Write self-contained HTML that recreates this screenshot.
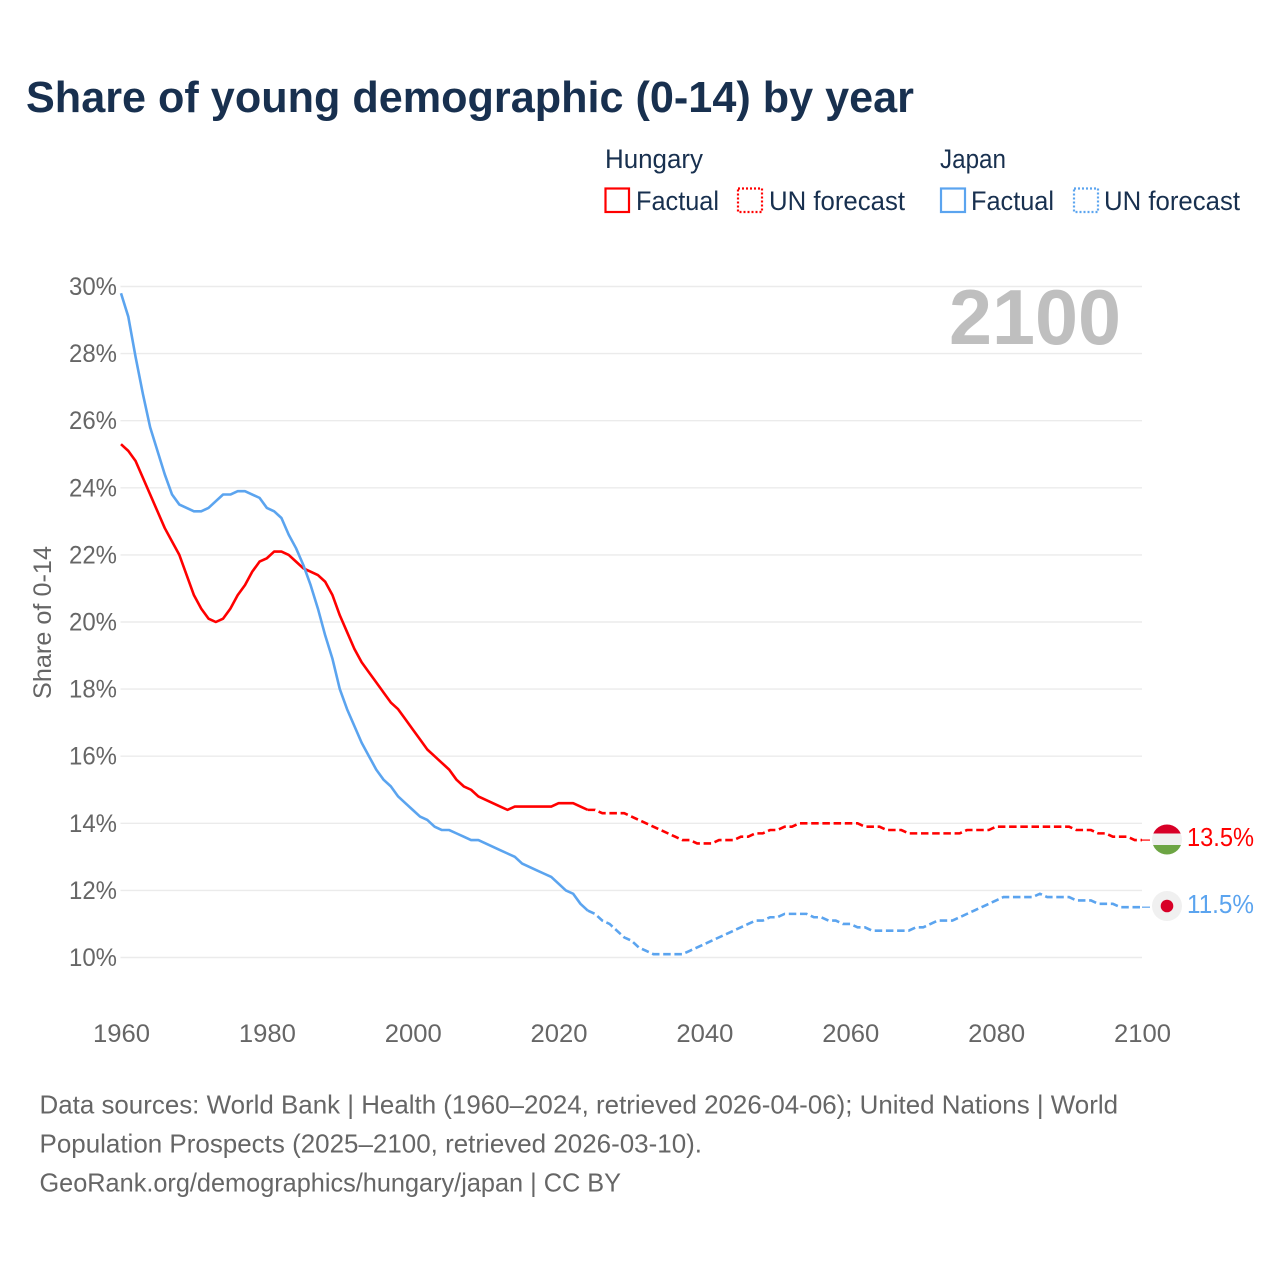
<!DOCTYPE html>
<html lang="en">
<head>
<meta charset="utf-8">
<title>Share of young demographic (0-14) by year</title>
<style>
  html, body { margin: 0; padding: 0; background: #fff; }
  svg { display: block; font-family: "Liberation Sans", sans-serif; }
</style>
</head>
<body>
<svg id="chart" xmlns="http://www.w3.org/2000/svg" width="1280" height="1280" viewBox="0 0 1280 1280">
  <defs>
    <clipPath id="flag-clip-hu"><circle cx="1167" cy="839.5" r="15"/></clipPath>
  </defs>
  <rect width="1280" height="1280" fill="#ffffff"/>

  <text x="26" y="112" font-size="44" font-weight="700" fill="#18304f" textLength="888" lengthAdjust="spacingAndGlyphs">Share of young demographic (0-14) by year</text>

  <g font-size="26.5" fill="#18304f">
    <text x="605" y="168" textLength="98" lengthAdjust="spacingAndGlyphs">Hungary</text>
    <rect x="605.5" y="188.5" width="23.5" height="23.5" fill="none" stroke="#ff0000" stroke-width="2.2"/>
    <text x="636" y="210" textLength="83" lengthAdjust="spacingAndGlyphs">Factual</text>
    <rect x="738" y="188.5" width="24" height="23.5" fill="none" stroke="#ff0000" stroke-width="2.2" stroke-dasharray="2 2"/>
    <text x="769" y="210" textLength="136" lengthAdjust="spacingAndGlyphs">UN forecast</text>
    <text x="940" y="168" textLength="66" lengthAdjust="spacingAndGlyphs">Japan</text>
    <rect x="941" y="188.5" width="24" height="23.5" fill="none" stroke="#5ba4ef" stroke-width="2.2"/>
    <text x="971" y="210" textLength="83" lengthAdjust="spacingAndGlyphs">Factual</text>
    <rect x="1074" y="188.5" width="24" height="23.5" fill="none" stroke="#5ba4ef" stroke-width="2.2" stroke-dasharray="2 2"/>
    <text x="1104" y="210" textLength="136" lengthAdjust="spacingAndGlyphs">UN forecast</text>
  </g>

  <g id="grid"></g>
  <g id="y-ticks" font-size="25" fill="#666666"></g>
  <g id="x-ticks" font-size="25" fill="#666666"></g>

  <text transform="translate(51 699) rotate(-90)" font-size="25" fill="#666666" textLength="153" lengthAdjust="spacingAndGlyphs">Share of 0-14</text>

  <text x="949" y="344" font-size="78" font-weight="700" fill="#bfbfbf" textLength="172" lengthAdjust="spacingAndGlyphs">2100</text>

  <g id="series"></g>

  <g clip-path="url(#flag-clip-hu)">
    <rect x="1151" y="824" width="32" height="9.5" fill="#d80027"/>
    <rect x="1151" y="833.5" width="32" height="11.5" fill="#f0f0f0"/>
    <rect x="1151" y="845" width="32" height="10" fill="#6da544"/>
  </g>
  <g>
    <circle cx="1167" cy="906" r="15" fill="#f0f0f0"/>
    <circle cx="1167" cy="906" r="6.3" fill="#d80027"/>
  </g>
  <text id="end-hu" x="1187" y="846" font-size="25.5" fill="#ff0000" textLength="67" lengthAdjust="spacingAndGlyphs"></text>
  <text id="end-jp" x="1187" y="913" font-size="25.5" fill="#5ba4ef" textLength="67" lengthAdjust="spacingAndGlyphs"></text>

  <g font-size="26" fill="#666666">
    <text x="39.5" y="1113.5" textLength="1078.5" lengthAdjust="spacingAndGlyphs">Data sources: World Bank | Health (1960–2024, retrieved 2026-04-06); United Nations | World</text>
    <text x="39.5" y="1152.5" textLength="662.5" lengthAdjust="spacingAndGlyphs">Population Prospects (2025–2100, retrieved 2026-03-10).</text>
    <text x="39.5" y="1191.5" textLength="581.5" lengthAdjust="spacingAndGlyphs">GeoRank.org/demographics/hungary/japan | CC BY</text>
  </g>
</svg>
<script>
const years = [1960,1961,1962,1963,1964,1965,1966,1967,1968,1969,1970,1971,1972,1973,1974,1975,1976,1977,1978,1979,
1980,1981,1982,1983,1984,1985,1986,1987,1988,1989,1990,1991,1992,1993,1994,1995,1996,1997,1998,1999,
2000,2001,2002,2003,2004,2005,2006,2007,2008,2009,2010,2011,2012,2013,2014,2015,2016,2017,2018,2019,
2020,2021,2022,2023,2024,2025,2026,2027,2028,2029,2030,2031,2032,2033,2034,2035,2036,2037,2038,2039,
2040,2041,2042,2043,2044,2045,2046,2047,2048,2049,2050,2051,2052,2053,2054,2055,2056,2057,2058,2059,
2060,2061,2062,2063,2064,2065,2066,2067,2068,2069,2070,2071,2072,2073,2074,2075,2076,2077,2078,2079,
2080,2081,2082,2083,2084,2085,2086,2087,2088,2089,2090,2091,2092,2093,2094,2095,2096,2097,2098,2099,2100];

const hungary = [25.3,25.1,24.8,24.3,23.8,23.3,22.8,22.4,22.0,21.4,
20.8,20.4,20.1,20.0,20.1,20.4,20.8,21.1,21.5,21.8,
21.9,22.1,22.1,22.0,21.8,21.6,21.5,21.4,21.2,20.8,
20.2,19.7,19.2,18.8,18.5,18.2,17.9,17.6,17.4,17.1,
16.8,16.5,16.2,16.0,15.8,15.6,15.3,15.1,15.0,14.8,
14.7,14.6,14.5,14.4,14.5,14.5,14.5,14.5,14.5,14.5,
14.6,14.6,14.6,14.5,14.4,14.4,14.3,14.3,14.3,14.3,
14.2,14.1,14.0,13.9,13.8,13.7,13.6,13.5,13.5,13.4,
13.4,13.4,13.5,13.5,13.5,13.6,13.6,13.7,13.7,13.8,
13.8,13.9,13.9,14.0,14.0,14.0,14.0,14.0,14.0,14.0,
14.0,14.0,13.9,13.9,13.9,13.8,13.8,13.8,13.7,13.7,
13.7,13.7,13.7,13.7,13.7,13.7,13.8,13.8,13.8,13.8,
13.9,13.9,13.9,13.9,13.9,13.9,13.9,13.9,13.9,13.9,
13.9,13.8,13.8,13.8,13.7,13.7,13.6,13.6,13.6,13.5,13.5];

const japan = [29.8,29.1,27.9,26.8,25.8,25.1,24.4,23.8,23.5,23.4,
23.3,23.3,23.4,23.6,23.8,23.8,23.9,23.9,23.8,23.7,
23.4,23.3,23.1,22.6,22.2,21.7,21.1,20.4,19.6,18.9,
18.0,17.4,16.9,16.4,16.0,15.6,15.3,15.1,14.8,14.6,
14.4,14.2,14.1,13.9,13.8,13.8,13.7,13.6,13.5,13.5,
13.4,13.3,13.2,13.1,13.0,12.8,12.7,12.6,12.5,12.4,
12.2,12.0,11.9,11.6,11.4,11.3,11.1,11.0,10.8,10.6,
10.5,10.3,10.2,10.1,10.1,10.1,10.1,10.1,10.2,10.3,
10.4,10.5,10.6,10.7,10.8,10.9,11.0,11.1,11.1,11.2,
11.2,11.3,11.3,11.3,11.3,11.2,11.2,11.1,11.1,11.0,
11.0,10.9,10.9,10.8,10.8,10.8,10.8,10.8,10.8,10.9,
10.9,11.0,11.1,11.1,11.1,11.2,11.3,11.4,11.5,11.6,
11.7,11.8,11.8,11.8,11.8,11.8,11.9,11.8,11.8,11.8,
11.8,11.7,11.7,11.7,11.6,11.6,11.6,11.5,11.5,11.5,11.5];

const yTickValues = [10,12,14,16,18,20,22,24,26,28,30];
const xTickValues = [1960,1980,2000,2020,2040,2060,2080,2100];
const lastFactualYear = 2024;

const SVG_NS = 'http://www.w3.org/2000/svg';
const xScale = function (year) { return 121 + (year - 1960) * (1142 - 121) / 140; };
const yScale = function (value) { return 957.5 - (value - 10) * (957.5 - 286.5) / 20; };

const gridGroup = document.getElementById('grid');
const yTickGroup = document.getElementById('y-ticks');
const xTickGroup = document.getElementById('x-ticks');
const seriesGroup = document.getElementById('series');

yTickValues.forEach(function (tick) {
  const line = document.createElementNS(SVG_NS, 'line');
  
  
  line.setAttribute('x1', 120.5);
  line.setAttribute('x2', 1142);
  line.setAttribute('y1', yScale(tick));
  line.setAttribute('y2', yScale(tick));
  line.setAttribute('stroke', '#ebebeb');
  line.setAttribute('stroke-width', 1.4);
  gridGroup.appendChild(line);

  const label = document.createElementNS(SVG_NS, 'text');
  
  
  label.setAttribute('x', 69);
  label.setAttribute('y', yScale(tick) + 8.5);
  label.setAttribute('textLength', 48);
  label.setAttribute('lengthAdjust', 'spacingAndGlyphs');
  label.textContent = tick + '%';
  yTickGroup.appendChild(label);
});

xTickValues.forEach(function (tick) {
  const label = document.createElementNS(SVG_NS, 'text');
  
  
  label.setAttribute('x', xScale(tick) - 28);
  label.setAttribute('y', 1042);
  label.setAttribute('textLength', 57);
  label.setAttribute('lengthAdjust', 'spacingAndGlyphs');
  label.textContent = tick;
  xTickGroup.appendChild(label);
});

function pointsFor(values, keep) {
  const pts = [];
  years.forEach(function (year, i) {
    if (keep(year)) pts.push(xScale(year).toFixed(2) + ',' + yScale(values[i]).toFixed(2));
  });
  return pts.join(' ');
}

function drawSeries(values, color, key) {
  const factual = document.createElementNS(SVG_NS, 'polyline');
  
  
  factual.setAttribute('points', pointsFor(values, function (y) { return y <= lastFactualYear; }));
  factual.setAttribute('fill', 'none');
  factual.setAttribute('stroke', color);
  factual.setAttribute('stroke-width', 2.6);
  factual.setAttribute('stroke-linejoin', 'round');
  seriesGroup.appendChild(factual);

  const forecast = document.createElementNS(SVG_NS, 'polyline');
  
  
  forecast.setAttribute('points', pointsFor(values, function (y) { return y >= lastFactualYear; }));
  forecast.setAttribute('fill', 'none');
  forecast.setAttribute('stroke', color);
  forecast.setAttribute('stroke-width', 2.6);
  forecast.setAttribute('stroke-dasharray', '7.5 3.7');
  seriesGroup.appendChild(forecast);

  const lastValue = values[values.length - 1];
  const connector = document.createElementNS(SVG_NS, 'line');
  
  
  connector.setAttribute('x1', xScale(2100));
  connector.setAttribute('x2', 1150);
  connector.setAttribute('y1', yScale(lastValue));
  connector.setAttribute('y2', yScale(lastValue));
  connector.setAttribute('stroke', color);
  connector.setAttribute('stroke-width', 1.2);
  seriesGroup.appendChild(connector);
}

drawSeries(hungary, '#ff0000', 'hungary');
drawSeries(japan, '#5ba4ef', 'japan');

document.getElementById('end-hu').textContent = hungary[hungary.length - 1].toFixed(1) + '%';
document.getElementById('end-jp').textContent = japan[japan.length - 1].toFixed(1) + '%';
</script>
</body>
</html>
